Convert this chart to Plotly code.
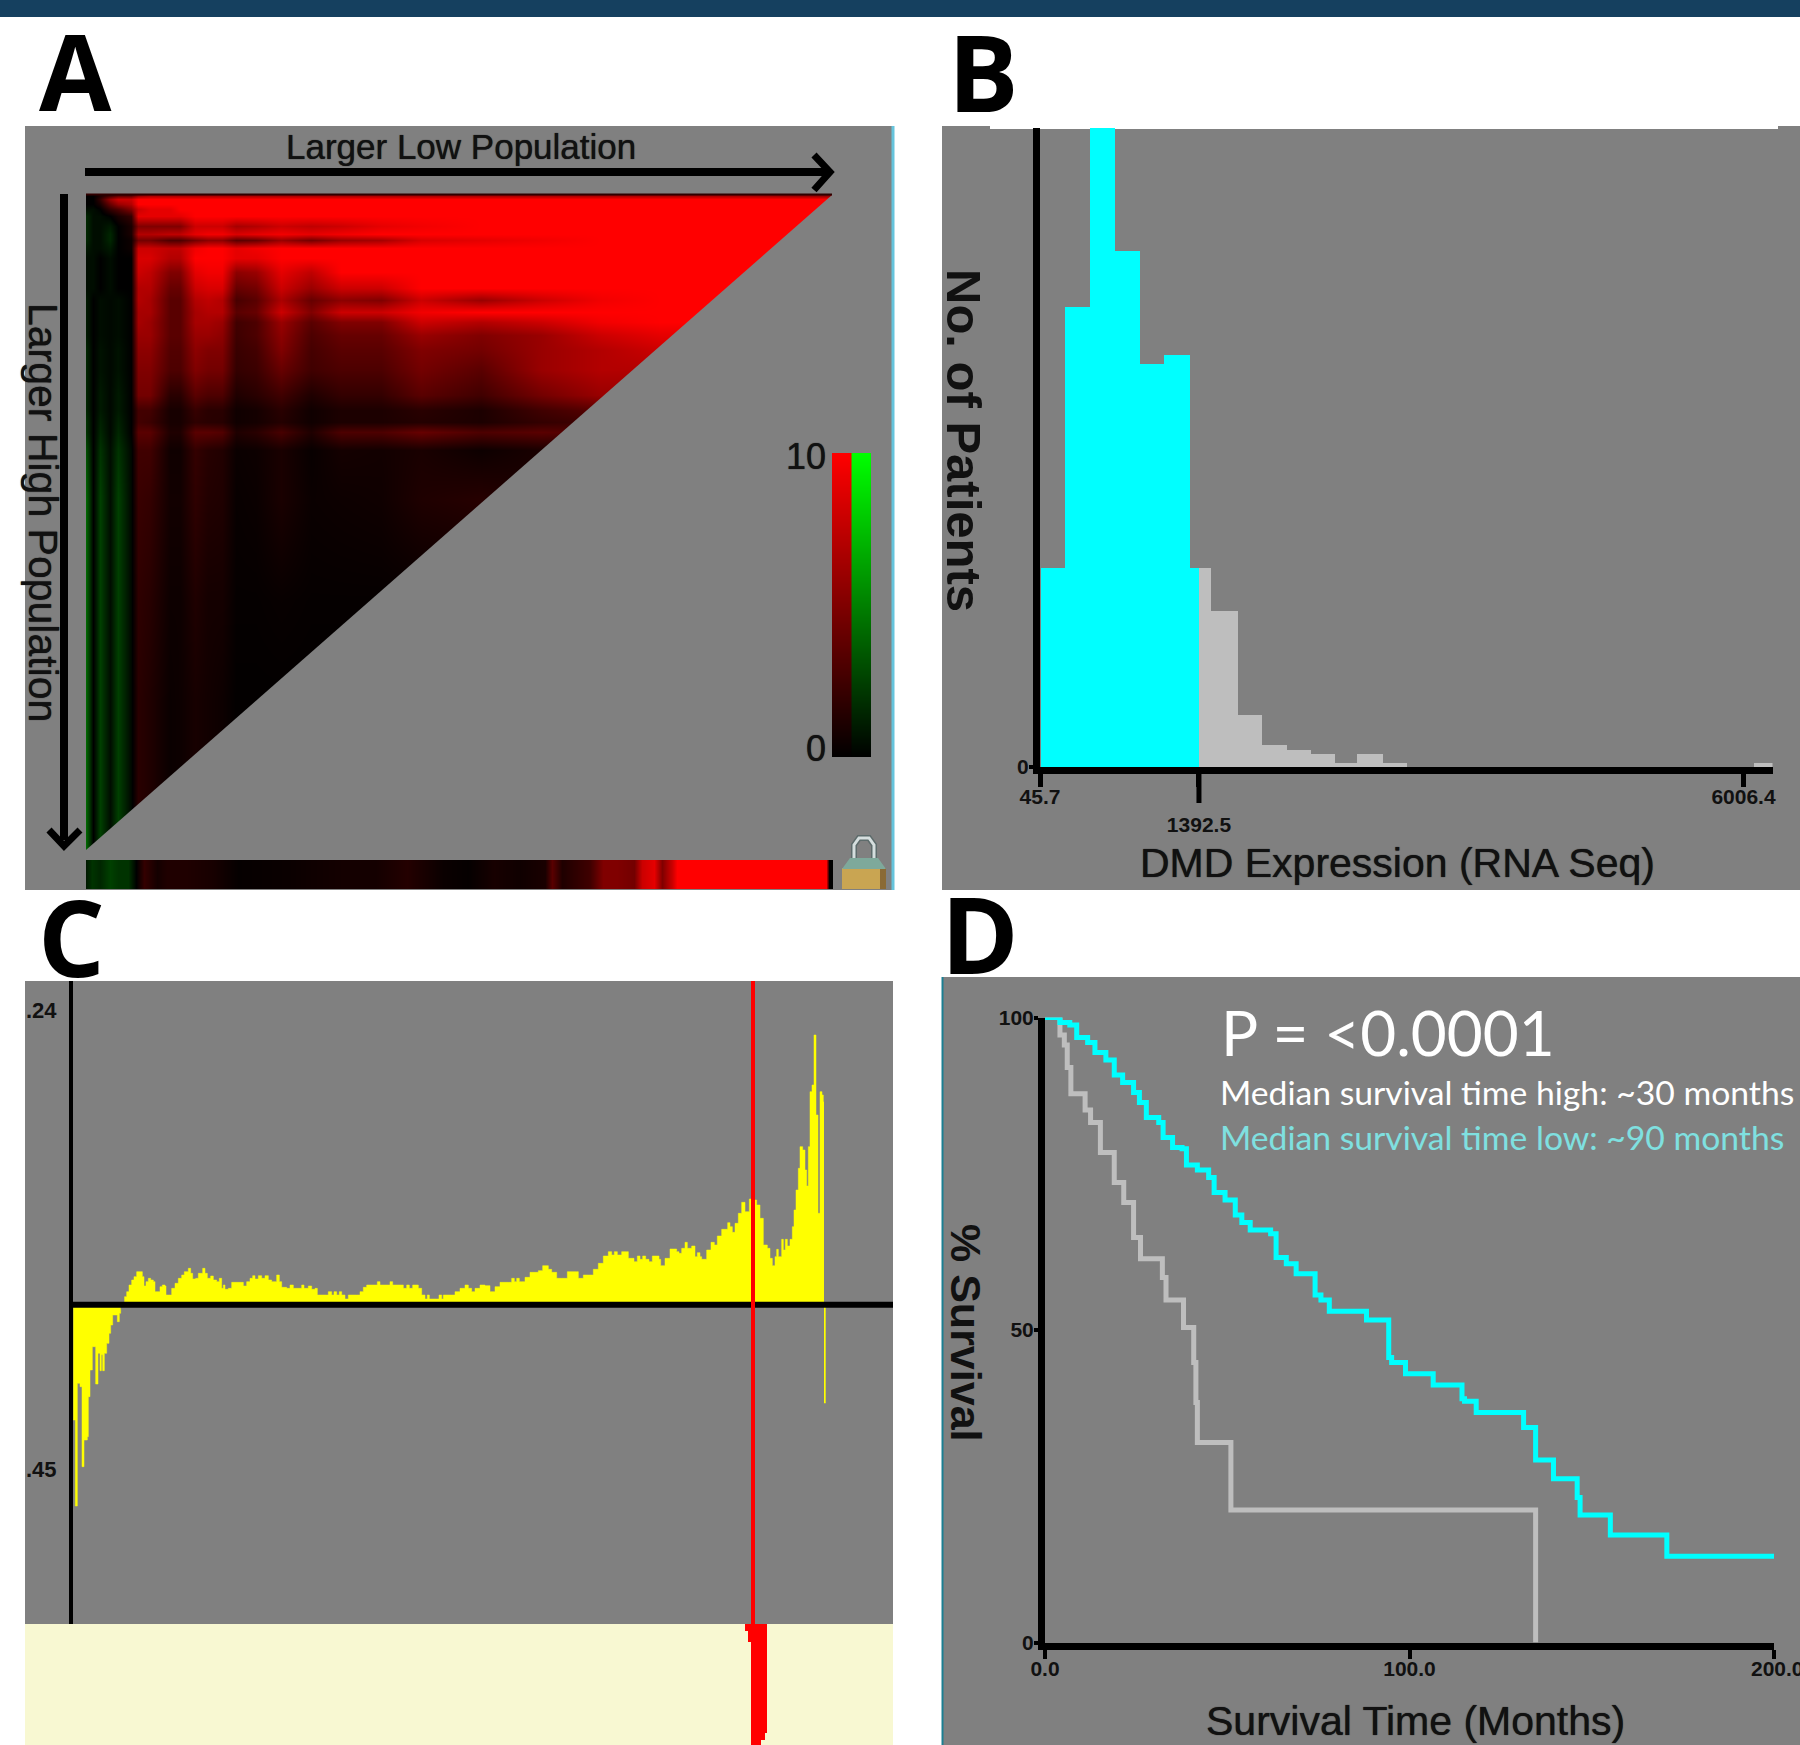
import plotly.graph_objects as go

W, H = 1800, 1745
def fx(p): return p / W
def fy(p): return 1 - p / H

# ---------- Panel A: two-cut survival heat map (z in 0-10, green negative) ----------
a_cols = [86,93,100,110,118,131,138,150,170,180,195,208,222,236,256,281,311,341,381,421,481,541,601,661,746,832]
a_rows = [195,199,204,209,216,226,234,240,248,258,272,288,300,312,322,335,350,370,395,410,422,432,450,500,600,700,850]
a_z = [
 [0,0,1,2,3,3,5,6,6,6,6,6,6,6,6,6,6,6,6,6,6,6,6,6,6,5],
 [0,0,2,6,8,8,10,10,10,10,10,10,10,10,10,10,10,10,10,10,10,10,10,10,10,10],
 [0,0,1,4,6,7,10,10,10,10,10,10,10,10,10,10,10,10,10,10,10,10,10,10,10,10],
 [-0.5,-0.5,0,2,3,5,8,9,9,10,10,10,10,10,10,10,10,10,10,10,10,10,10,10,10,10],
 [-1.5,-0.5,-0.5,0,1,2,9,9,9,9,10,10,10,10,10,10,10,10,10,10,10,10,10,10,10,10],
 [-1.5,-0.5,-0.5,-1,0,1,5,5,5,5,8,8,8,6.5,7,8,7.5,8,9,9.5,10,10,10,10,10,10],
 [-1.5,-0.5,-0.5,-1.5,0,1,7,7,7.5,7.5,9,9.5,9.5,8.5,9,9.5,9,9.5,10,10,10,10,10,10,10,10],
 [-1.5,-0.5,-0.5,-1.5,0,0.5,4.5,4.5,3,3,4.5,5.5,5.5,3.5,4,6,4.5,6,6.5,8.5,9,9.5,10,10,10,10],
 [-1,-0.5,-0.5,-1,0,0.5,8,8,7.5,7.5,9.5,10,10,9,9.5,10,10,10,10,10,10,10,10,10,10,10],
 [-0.5,-0.5,0,-0.5,0,0,8.5,8.5,7,7,10,10,10,9,9,10,10,10,10,10,10,10,10,10,10,10],
 [-0.5,-0.5,0,-0.5,0,0,8,7.5,5,5,9,9.5,9.5,5.5,6,9,7.5,10,10,10,10,10,10,10,10,10],
 [-0.5,-0.5,0,-0.5,0,0,7,7,4,4,8,8.5,8.5,4,4.5,8,6,8,8,10,10,10,10,10,10,10],
 [-1,0,-0.5,-0.3,-0.5,0,7,6.5,3.5,3.5,7,7.5,7,2.8,3.5,6.7,4,5.5,5,8,6,8,9.5,10,10,10],
 [-1,0,-0.5,-0.3,-0.5,0,6.5,6.5,3.5,3.5,6.5,7,7,3.5,4,8,5,8,8,9.5,10,10,10,10,10,10],
 [-1,0,-0.5,-0.3,-0.5,0,6.5,6,3.5,3.5,6.5,6.5,6,2.5,3,6,3.5,5,5,8,7,8,9.5,10,10,10],
 [-1,0,-0.5,-0.3,-0.5,0,6,6,3.5,3.5,6,6,5.5,2.4,3,5.5,3,4,4,6,5,6,8,9,9,9],
 [-1.5,0,-0.7,-0.3,-0.7,0,5.5,5.5,3.2,3.2,5.5,5,5,2.2,2.6,5,2.7,3.5,3.5,5,4.5,6,7,8,8,8],
 [-1.5,0,-0.7,-0.3,-0.7,0,5,5,3,3,5,4.5,4.5,2,2.3,4,2.5,3,3,4.5,3.5,6,7,7,7,7],
 [-1.5,0,-1,-0.3,-1,0,4.5,4.5,1.6,1.6,3.5,3,3,1.2,1.6,2.5,1.2,2,2,3.5,2.5,4.5,6,6,6,6],
 [-1.5,0,-1,-0.3,-1,0,2.6,2.6,0.9,0.9,2.1,1.6,1.6,0.6,0.8,1.6,0.6,1.1,1.1,1.6,1.1,2.5,3.5,3.5,3.5,3.5],
 [-2,0,-1.3,-0.3,-1.3,0,2.6,2.3,0.9,0.9,1.8,1.6,1.5,0.6,0.8,1.4,0.6,1.1,1.1,1.4,1.1,2,2.5,2.5,2.5,2.5],
 [-2,0,-1.5,-0.3,-1.5,0,3.5,3.5,1.2,1.2,3.5,3.5,3.2,1.2,1.6,2.8,1.2,3,3,4,3,3.5,3,3,3,3],
 [-3,0,-2,-0.5,-2,-0.3,2.5,2.5,0.6,0.6,2,1.5,1.3,0.4,0.5,1,0.3,0.8,0.7,1,0.5,1,1,1,1,1],
 [-4,0,-2.5,-0.5,-2.5,-0.3,2.2,2,0.7,0.7,1.8,1.3,1.2,0.3,0.4,1,0.4,0.5,0.6,1.2,1.5,1,1,1,1,1],
 [-4,0,-2.5,-0.5,-2.5,-0.3,1.8,1.5,0.5,0.5,1.2,0.8,0.8,0.2,0.2,0.3,0.2,0.2,0.2,0.2,0.2,0.2,0.2,0.2,0.2,0.2],
 [-4,0,-2.5,-0.5,-2.5,-0.3,1.6,1.2,0.4,0.5,0.9,0.7,0.5,0.1,0.1,0.1,0.1,0.1,0.1,0.1,0.1,0.1,0.1,0.1,0.1,0.1],
 [-4,0,-2.5,-0.5,-2.5,-0.3,1.6,1.2,0.4,0.5,0.9,0.7,0.5,0.1,0.1,0.1,0.1,0.1,0.1,0.1,0.1,0.1,0.1,0.1,0.1,0.1],
]
mask_x = [86, 832, 835, 835, 86]
mask_y = [850, 195, 195, 853, 853]
strip_x = [86,92,100,110,118,128,136,144,157,167,187,213,238,289,315,346,376,407,443,468,494,520,545,552,562,590,603,617,634,642,654,662,672,677,826,829,833]
strip_z = [-1,-2,-1.5,-2.5,-2,-2,0,2,0.8,1.2,1.2,0.9,0.2,0.4,0.6,0.8,0.8,1.4,0.4,0.2,0.9,0.6,1,3.5,1.2,2.5,5,5,4.5,8,9,5,8,10,10,0,0]
scale_levels = [0,1,2,3,4,5,6,7,8,9,10]

# ---------- Panel B: histogram of DMD expression ----------
b_low_edges = [54,258,469,681,893,1096,1317,1392.5]
b_low_counts = [46,106,160,119,93,95,46]
b_high_edges = [1392.5,1495,1723,1927,2139,2342,2545,2732,2952,3155]
b_high_counts = [46,36,12,5,4,3,1,3,1]
b_last_edges = [6095,6252]
b_last_counts = [1]
b_ticks = [45.7,1392.5,6006.4]
b_ticktext = ["45.7","<br>1392.5","6006.4"]

# ---------- Panel C: hazard profile over all cut points ----------
c_neg_cut = [40,46,52,60,66,72,82,85,90,97,107,114,120,124,128,133,140,147,152,158,165,172,178,182]
c_neg_val = [-346,-604,-236,-246,-486,-406,-396,-276,-196,-126,-238,-146,-198,-150,-198,-146,-116,-86,-61,-31,-31,-51,-26,-14]
c_pos_cut = [193,200,207,215,222,230,240,247,252,258,265,272,280,285,297,300,307,315,318,325,335,345,355,365,373,385,392,398,407,415,428,435,442,452,460,470,478,485,490,495,505,515,545,550,560,570,578,585,595,605,615,625,635,650,658,665,680,690,700,720,725,732,745,755,765,772,800,805,815,822,830,838,845,855,865,890,900,910,920,945,952,960,985,990,998,1025,1030,1040,1048,1058,1068,1075,1085,1095,1102,1108,1130,1137,1145,1150,1175,1185,1200,1215,1225,1235,1245,
 1260,1275,1290,1305,1320,1345,1355,1363,1370,1378,1385,1395,1410,1435,1448,1465,1475,1490,1505,1522,1550,1555,1570,1585,1600,1615,1630,1645,1655,1663,1672,1685,1700,1705,1722,1732,1740,1748,1757,1767,1777,1797,1802,1815,1830,1840,1850,1857,1865,1875,1882,1895,1905,1912,1920,1925,1940,1953,1963,1972,1985,1998,2003,2010,2017,2025,2035,2045,2055,2068,2080,2090,2100,2110,2122,2130,2137,2145,2150,2155,2165,2170,2176,2182,2190,2197,2202,2208,2215,2220,2228,2235,2240,2245,2250,2256,2262,2268,2274,2280,2286,2290,2292]
c_pos_val = [24,39,59,74,84,99,99,84,56,69,79,74,69,39,39,54,59,56,29,29,49,64,79,89,99,109,94,77,79,94,109,94,79,86,74,69,79,49,59,46,49,67,67,56,69,79,87,77,87,79,87,74,69,89,69,52,49,59,49,49,59,49,56,46,49,29,29,39,29,39,29,39,29,17,29,29,39,52,59,59,69,59,59,69,59,59,49,59,49,59,59,49,29,17,29,17,17,29,17,29,29,39,49,59,49,39,49,
 59,57,39,54,67,67,79,69,79,69,69,82,97,102,117,106,97,79,79,99,99,79,89,89,106,124,146,159,149,159,149,159,159,139,129,146,136,146,136,129,146,136,117,139,167,167,159,154,169,187,169,176,144,156,144,136,164,187,179,206,226,226,246,234,217,244,274,307,279,317,314,299,259,179,169,139,117,144,166,144,196,164,196,176,196,234,284,344,409,474,464,404,356,474,639,659,809,569,274,639,629,609,609]
c_spike_cut = [2292,2297]
c_spike_val = [-295,-295]
c_ticks = [884,-493]
c_ticktext = [".24",".45"]
c_marker_cut = 2079
p_cut = [2055,2064,2073,2103,2115,2121]
p_depth = [7,18,121,116,109,0]

# ---------- Panel D: Kaplan-Meier curves ----------
high_t = [0,4.1,5.3,6.1,7.1,11,12.5,15.2,19,21.6,24.3,26.2,32.2,33.2,38,40.8,41.4,41.8,51,134.6]
high_s = [100,97.2,95.6,92,87.8,85.2,83.2,78.4,73.6,70.4,64.8,61.4,58.4,54.8,50.4,44.8,38.4,32,21.2,0]
low_t = [0,4.1,6.8,8.7,11.7,13.7,16.7,19,21.3,24.3,25.9,27.8,31.2,32.4,35,37.6,38.8,41.8,44.9,46.4,49.4,52.2,54,56.3,61.9,63.4,66.2,68.9,74.1,75.7,78,81.1,88.2,89,94.3,95.1,98.9,106.5,114.4,115.1,118.3,131.3,134.6,139.5,146,146.8,155.1,170.6,200.5]
low_s = [100,99.2,98.8,96.8,96,94.4,93.2,90.8,89.6,88,86.4,84,83.2,80.8,79.2,79,76.4,75.6,74.4,72,70.8,68.4,67.2,66,65.4,61.6,60.6,59,55.6,54.8,53,53,51.6,51.6,45.6,44.8,43,41.2,39,38.6,36.8,34.4,29.2,26.2,23.2,20.4,17.2,13.8,13.8]
d_xticks = [0,100,200]
d_xticktext = ["0.0","100.0",""]
d_yticks = [0,50,100]

GRAY = "#808080"; BEIGE = "#F8F8D2"; INK = "#111111"; CYAN = "#00FFFF"; SILVER = "#BEBEBE"
RAMP = [[0, "rgb(0,255,0)"], [0.5, "rgb(0,0,0)"], [1, "rgb(255,0,0)"]]
FONT = "Liberation Sans"

fig = go.Figure()
def heat(x, y, z, xa, ya):
    fig.add_trace(go.Heatmap(x=x, y=y, z=z, xaxis=xa, yaxis=ya, zmin=-10, zmax=10, colorscale=RAMP,
                             showscale=False, zsmooth="best", hoverinfo="skip"))

heat(a_cols, a_rows, a_z, "x", "y")
fig.add_trace(go.Scatter(x=mask_x, y=mask_y, xaxis="x", yaxis="y", mode="lines", fill="toself", cliponaxis=False,
                         fillcolor=GRAY, line=dict(width=0), hoverinfo="skip"))
heat(strip_x, [0, 1], [strip_z, strip_z], "x2", "y2")
heat([0.25, 0.75], scale_levels, [[v, v] for v in scale_levels], "x3", "y3")
heat([1.25, 1.75], scale_levels, [[-v, -v] for v in scale_levels], "x3", "y3")

def hist(edges, counts, color):
    fig.add_trace(go.Bar(x=[(a + b) / 2 for a, b in zip(edges, edges[1:])], y=counts,
                         width=[b - a for a, b in zip(edges, edges[1:])], marker=dict(color=color, line=dict(width=0)),
                         xaxis="x4", yaxis="y4", hoverinfo="skip"))
hist(b_low_edges, b_low_counts, CYAN)
hist(b_high_edges, b_high_counts, SILVER)
hist(b_last_edges, b_last_counts, SILVER)

for xs, ys in [(c_neg_cut, c_neg_val), (c_pos_cut, c_pos_val), (c_spike_cut, c_spike_val)]:
    fig.add_trace(go.Scatter(x=xs, y=ys, xaxis="x5", yaxis="y5", mode="lines", fill="tozeroy", fillcolor="#FFFF00",
                             line=dict(color="#FFFF00", width=0.5, shape="hv"), hoverinfo="skip"))
fig.add_trace(go.Scatter(x=p_cut, y=p_depth, xaxis="x6", yaxis="y6", mode="lines", fill="tozeroy", fillcolor="#FF0000",
                         line=dict(color="#FF0000", width=0, shape="hv"), hoverinfo="skip"))

fig.add_trace(go.Scatter(x=high_t, y=high_s, xaxis="x7", yaxis="y7", mode="lines", cliponaxis=False,
                         line=dict(color=SILVER, width=5, shape="hv"), name="High"))
fig.add_trace(go.Scatter(x=low_t, y=low_s, xaxis="x7", yaxis="y7", mode="lines", cliponaxis=False,
                         line=dict(color=CYAN, width=5, shape="hv"), name="Low"))

hidden = dict(visible=False, fixedrange=True)
def dx(a, b): return [a / W, b / W]
def dy(top, bot): return [1 - bot / H, 1 - top / H]
tickfontb = dict(family=FONT, size=21, color=INK, weight=700)
tickfontc = dict(family=FONT, size=22, color=INK, weight=700)

layout = dict(
    width=W, height=H, autosize=False, margin=dict(l=0, r=0, t=0, b=0, pad=0, autoexpand=False),
    paper_bgcolor="white", plot_bgcolor="rgba(0,0,0,0)", showlegend=False, barmode="overlay", bargap=0,
    xaxis=dict(hidden, domain=dx(86, 832), range=[86, 832]),
    yaxis=dict(hidden, domain=dy(195, 850), range=[850, 195]),
    xaxis2=dict(hidden, domain=dx(86, 833), range=[86, 833], anchor="y2"),
    yaxis2=dict(hidden, domain=dy(860, 889), range=[0, 1], anchor="x2"),
    xaxis3=dict(hidden, domain=dx(832, 871), range=[0, 2], anchor="y3"),
    yaxis3=dict(hidden, domain=dy(453, 757), range=[0, 10], anchor="x3"),
    xaxis4=dict(domain=dx(1040, 1772.5), range=[45.7, 6252], anchor="y4", showline=True, linecolor="black", linewidth=7,
                showgrid=False, zeroline=False, tickmode="array", tickvals=b_ticks, ticktext=b_ticktext, automargin=False,
                ticks="outside", ticklen=13, tickwidth=5, tickcolor="black", tickfont=tickfontb, fixedrange=True,
                ticklabelstandoff=-8),
    yaxis4=dict(domain=dy(128, 767), range=[0, 147.4], anchor="x4", showline=True, linecolor="black", linewidth=7,
                showgrid=False, zeroline=False, tickmode="array", tickvals=[0], ticktext=["0"], automargin=False,
                ticks="outside", ticklen=4, tickwidth=4, tickcolor="black", tickfont=tickfontb, fixedrange=True,
                ticklabelstandoff=-4),
    xaxis5=dict(hidden, domain=dx(73, 893), range=[39, 2499], anchor="y5"),
    yaxis5=dict(domain=dy(981, 1624), range=[-958, 971], anchor="x5", showline=True, linecolor="black", linewidth=4,
                showgrid=False, zeroline=False, tickmode="array", tickvals=c_ticks, ticktext=c_ticktext, automargin=False,
                ticks="outside", ticklen=8, tickcolor="rgba(0,0,0,0)", tickfont=tickfontc, fixedrange=True),
    xaxis6=dict(hidden, domain=dx(73, 893), range=[39, 2499], anchor="y6"),
    yaxis6=dict(hidden, domain=dy(1624, 1745), range=[121, 0], anchor="x6"),
    xaxis7=dict(domain=dx(1045, 1774), range=[0, 200], anchor="y7", showline=True, linecolor="black", linewidth=7,
                showgrid=False, zeroline=False, tickmode="array", tickvals=d_xticks, ticktext=d_xticktext, automargin=False,
                ticks="outside", ticklen=9, tickwidth=4, tickcolor="black", tickfont=tickfontb, fixedrange=True,
                ticklabelstandoff=-8),
    yaxis7=dict(domain=dy(1017.5, 1642.5), range=[0, 100], anchor="x7", showline=True, linecolor="black", linewidth=7,
                showgrid=False, zeroline=False, tickmode="array", tickvals=d_yticks, automargin=False,
                ticks="outside", ticklen=4, tickwidth=4, tickcolor="black", tickfont=tickfontb, fixedrange=True,
                ticklabelstandoff=-4),
)

def rect(x0, y0, x1, y1, color, layer="below"):
    return dict(type="rect", xref="paper", yref="paper", x0=fx(x0), x1=fx(x1), y0=fy(y1), y1=fy(y0),
                fillcolor=color, line=dict(width=0), layer=layer)
def seg(x0, y0, x1, y1, color, w, layer="above"):
    return dict(type="line", xref="paper", yref="paper", x0=fx(x0), x1=fx(x1), y0=fy(y0), y1=fy(y1),
                line=dict(color=color, width=w), layer=layer)
def path(pts, color=None, fill=None, w=0, close=False, layer="above"):
    d = "M " + " L ".join(f"{fx(a):.5f},{fy(b):.5f}" for a, b in pts) + (" Z" if close else "")
    return dict(type="path", xref="paper", yref="paper", path=d, fillcolor=fill or "rgba(0,0,0,0)",
                line=dict(color=color or "rgba(0,0,0,0)", width=w), layer=layer)

shackle = [(854, 860), (854, 845), (859, 838), (869, 838), (874, 845), (874, 860)]
shapes = [
    rect(0, 0, 1800, 17, "#15405F"),
    rect(25, 126, 892, 890, GRAY),
    rect(942, 126, 1800, 890, GRAY),
    rect(990, 126, 1778, 129, "#FFFFFF"),
    rect(25, 981, 893, 1624, GRAY),
    rect(25, 1624, 893, 1745, BEIGE),
    rect(942, 977, 1800, 1745, GRAY),
    seg(893, 126, 893, 890, "#66C4DC", 3, "below"),
    seg(942.5, 977, 942.5, 1745, "#1C7F92", 2, "below"),
    # panel A arrows and frame
    seg(85, 172, 826, 172, "black", 8),
    path([(814, 155), (830, 172), (814, 190)], color="black", w=7),
    seg(64, 194, 64, 840, "black", 8),
    path([(49, 830), (64, 846), (80, 830)], color="black", w=7),
    seg(86, 194.5, 832, 194.5, "#300000", 2),
    # lock
    path(shackle, color="#5D6B6B", w=6),
    path(shackle, color="#D5DEDE", w=3),
    rect(842, 868, 886, 889, "#C9A552", "above"),
    rect(880, 868, 886, 889, "#8A6A35", "above"),
    path([(842, 869), (850, 858), (878, 858), (886, 869)], fill="#7EA99B", close=True),
    # panel B long tick
    dict(type="line", xref="x4", yref="paper", x0=b_ticks[1], x1=b_ticks[1], y0=fy(773), y1=fy(803),
         line=dict(color="black", width=5)),
    # panel C zero line and marker
    dict(type="line", xref="paper", yref="y5", x0=fx(71), x1=fx(893), y0=0, y1=0, line=dict(color="black", width=6)),
    dict(type="line", xref="x5", yref="paper", x0=c_marker_cut, x1=c_marker_cut, y0=fy(981), y1=fy(1630),
         line=dict(color="#FF0000", width=4)),
]

def ann(text, x, y, size, color=INK, family=FONT, bold=False, angle=0, anchor="center", heavy=False):
    font = dict(family=family, size=size, color=color)
    if heavy:
        font["shadow"] = "0 0 1px #111111"
    return dict(text=f"<b>{text}</b>" if bold else text, xref="paper", yref="paper", x=fx(x), y=fy(y), showarrow=False,
                xanchor=anchor, yanchor="middle", textangle=angle, font=font)

annotations = [
    ann("A", 75, 70, 105, "black", "Open Sans", True),
    ann("B", 984, 71, 105, "black", "Open Sans", True),
    ann("C", 71, 936, 105, "black", "Open Sans", True),
    ann("D", 980, 934, 105, "black", "Open Sans", True),
    ann("Larger Low Population", 461, 146, 35, heavy=True),
    ann("Larger High Population", 43, 512, 41, angle=90, heavy=True),
    ann("10", 828, 456, 36, anchor="right", heavy=True),
    ann("0", 828, 749, 36, anchor="right", heavy=True),
    ann("No. of Patients", 964, 440, 49, bold=True, angle=90),
    ann("DMD Expression (RNA Seq)", 1397, 863, 41, heavy=True),
    ann("% Survival", 966, 1333, 43, bold=True, angle=90),
    ann("Survival Time (Months)", 1415, 1721, 41, heavy=True),
    ann("P = &lt;0.0001", 1219, 1032, 62, "white", "Lato", anchor="left"),
    ann("Median survival time high: ~30 months", 1218, 1092, 33.7, "white", "Lato", anchor="left"),
    ann("Median survival time low: ~90 months", 1218, 1137, 33.7, "#7FE0E0", "Lato", anchor="left"),
    ann("200.0", 1749, 1668, 21, bold=True, anchor="left"),
]
layout["shapes"] = shapes
layout["annotations"] = annotations
fig.update_layout(**layout)

fig.write_html("out.html", config=dict(displayModeBar=False, responsive=False),
               post_script="document.body.style.margin='0';document.body.style.overflow='hidden';")
